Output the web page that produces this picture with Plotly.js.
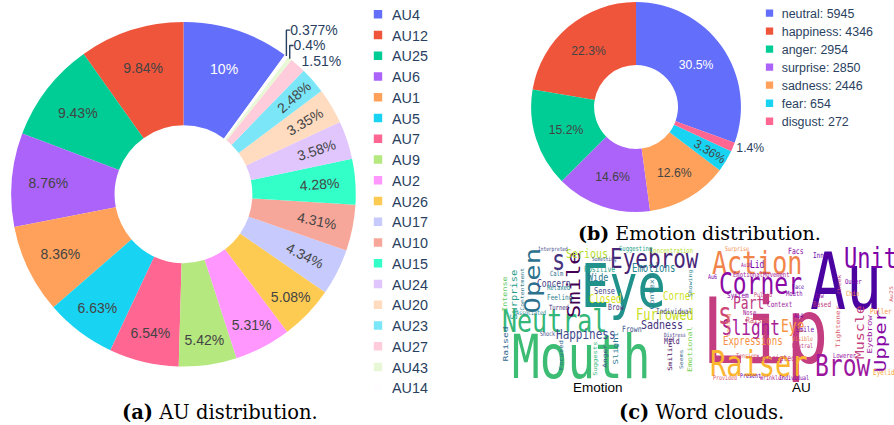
<!DOCTYPE html>
<html>
<head>
<meta charset="utf-8">
<script src="https://cdn.plot.ly/plotly-3.0.1.min.js"></script>
<style>
html,body{margin:0;padding:0;background:#fff;overflow:hidden;}
#wrap{position:relative;width:894px;height:425px;}
#base{position:absolute;left:0;top:0;width:894px;height:425px;}
#auPie{position:absolute;left:0;top:0;width:640px;height:600px;transform:scale(0.7);transform-origin:0 0;}
#emoPie{position:absolute;left:500px;top:0;width:646px;height:370px;transform:scale(0.61);transform-origin:0 0;}
#clouds{position:absolute;left:500px;top:219px;width:394px;height:144px;transform:scale(1,1.3);transform-origin:0 0;}
</style>
</head>
<body>
<div id="wrap">
  <div id="base"></div>
  <div id="clouds"></div>
  <div id="auPie"></div>
  <div id="emoPie"></div>
</div>
<script>
// ---------------- data ----------------
const auLabels = ['AU4','AU12','AU25','AU6','AU1','AU5','AU7','AU9','AU2','AU26','AU17','AU10','AU15','AU24','AU20','AU23','AU27','AU43','AU14'];
const auShares = [10.0,9.84,9.43,8.76,8.36,6.63,6.54,5.42,5.31,5.08,4.34,4.31,4.28,3.58,3.35,2.48,1.51,0.4,0.377];

const emotionNames = ['neutral','happiness','anger','surprise','sadness','fear','disgust'];
const emotionCounts = [5945,4346,2954,2850,2446,654,272];

const emotionCloudWords = ['Mouth','Eye','Neutral','Eyebrow','Open','s','Smile','Happiness','Furrowed','Sadness',
  'Serious','Emotions','Corner','Closed','Wide','Concern','Sense','Context','Slight','Smiling','Emotional','Surprise',
  'Intense','Contentment','Raised','Frown','Mild','Individual','Brow','Positive','Calm','Relaxed','Feeling','Turned',
  'Associated','Shock','Focused','Anger','Suggests','Seems','Showing','Concentration','Suggesting','Something','Interpreted','Distress'];
const auCloudWords = ['Lip','Au','Action','Unit','Corner','Raiser','Brow','Upper','Muscle','Eyebrow','Slight','Part','s','Eye',
  'Expressions','Associated','Lid','Facs','Surprise','Inner','Movement','Emotional','System','Pulled','Mouth','Face','Context',
  'Jaw','Based','Nose','Raised','Au4','Smile','Visible','Neutral','Tension','Lowerer','Present','Wrinkler','Individual',
  'Provided','Coding','Tightener','Puller','Chin','Outer','Cheek','Eyelid','Au25','Au6','Au10'];

// ---------------- word-cloud placement (x, y inside the cloud panel, font size, angle, colour) ----------------
const emotionCloudPlacement = [
 [80.5,112,46,0,'#3dbc74'],[123,40.5,47,0,'#21918c'],[54.7,76,25,0,'#35b779'],[154.7,13.7,21,0,'#482677'],
 [33,36,21,-90,'#2c728e'],[58,15,22,0,'#46337e'],[74,40.5,17,-90,'#440154'],[86,89,11,0,'#3e4a89'],
 [165,70.5,12,0,'#c8e020'],[162,80.5,10,0,'#46327e'],[87,8.5,10,0,'#b5de2b'],[153,23.3,9,0,'#26828e'],
 [179,50.5,9,0,'#d0e11c'],[105,55,9,0,'#dde318'],[98,32.5,8.5,0,'#2a788e'],[54,38,8,0,'#443983'],
 [104,47,7,0,'#414487'],[152.5,47,6.5,-90,'#2a788e'],[116,104,7,-90,'#2a788e'],[170,109,6,-90,'#440154'],
 [190,105,6.5,-90,'#7ad151'],[14,50,8,-90,'#1f9e89'],[5,50,6.5,-90,'#5ec962'],[22,45,5,-90,'#2a788e'],
 [5.5,99,7.5,-90,'#31688e'],[132,84,6.5,0,'#3b528b'],[172,96,6.5,0,'#482878'],[174,65,6,0,'#3e4989'],
 [116,63,6.5,0,'#472d7b'],[99.7,24.5,6.5,0,'#1f9e89'],[57,29,5.5,0,'#31688e'],[58,42.5,5.5,0,'#26828e'],
 [60,52,6,0,'#287d8e'],[59,62,5.5,0,'#46337e'],[31,68,5,0,'#26828e'],[47,89,5,0,'#3e4989'],
 [61,111,5.5,-90,'#31688e'],[105,111,6,-90,'#3b528b'],[96,114,5.5,-90,'#35b779'],[181,115,5,-90,'#31688e'],
 [190,39,5,-90,'#26828e'],[171,5.5,5.5,0,'#b5de2b'],[135,5,5.5,0,'#1f9e89'],[104,13.5,4.5,0,'#3b528b'],
 [53,4,4.5,0,'#3e4989'],[175,90,4.5,0,'#443983']
];
const auCloudPlacement = [
 [265,87,70,0,'#c33d80'],[346,37,60,0,'#4a02a0'],[257,17.8,25,0,'#f1844b'],[370,14,22,0,'#7e03a8'],
 [260.5,38.7,23,0,'#8b0aa5'],[259,118.8,27,0,'#fcb52e'],[343,120.5,23,0,'#9c179e'],[381,96,16,-90,'#8707a6'],
 [360,87,11.5,-90,'#c5407e'],[370,89,7,-90,'#9c179e'],[250.5,82,16,0,'#a62098'],[248,58,13,0,'#c03a83'],
 [224.5,69,23,0,'#cc4778'],[293,81,13,0,'#f89441'],[253,96.7,9,0,'#f68f44'],[275,113,6.5,0,'#c33d80'],
 [257,20.5,8,0,'#7e03a8'],[295.5,6.3,6.5,0,'#8a09a5'],[237,4.7,5,0,'#f48849'],[322,9.7,6,0,'#6a00a8'],
 [276,29.7,5.5,0,'#a72197'],[248,29.7,5.5,0,'#9c179e'],[237.5,50.3,6,0,'#8606a6'],[263,50,5,0,'#ca457a'],
 [294,48,5.5,0,'#7e03a8'],[298,41,5,0,'#5c01a6'],[280,59,6,0,'#9c179e'],[319,51,5.5,0,'#8b0aa5'],
 [322,59,6,0,'#c03a83'],[249,68,5.5,0,'#a62098'],[258,75,6.5,0,'#d5546e'],[298,70,5,0,'#7e03a8'],
 [304.5,84,6,0,'#7201a8'],[302,94,5,0,'#f07f4f'],[302,99.5,5,0,'#c33d80'],[246,110,5,0,'#d8576b'],
 [345,111,5.5,0,'#9511a1'],[250,130,5,0,'#6a00a8'],[272,132,5,0,'#b12a90'],[294,132,5,0,'#7e03a8'],
 [225,132,5,0,'#d8576b'],[229,80,5,-90,'#f48849'],[338,82,6,-90,'#d8576b'],[381,65,6,0,'#f89441'],
 [352,48,5.5,0,'#f89441'],[353,36,5.5,0,'#7e03a8'],[339,40,5,-90,'#c33d80'],[384,128,6,0,'#fca636'],
 [391,49,5,-90,'#d8576b'],[212,31,5,0,'#7e03a8'],[246,20,4.5,0,'#9c179e']
];

const plotlyColors = ['#636efa','#EF553B','#00cc96','#ab63fa','#FFA15A','#19d3f3','#FF6692','#B6E880','#FF97FF','#FECB52'];
const cfg = {staticPlot:true, displayModeBar:false};
const pieFont = {family:'Arial, "Liberation Sans", sans-serif', size:20, color:'#2a3f5f'};
const serif = '"DejaVu Serif", serif';

// ---------------- (a) AU pie ----------------
Plotly.newPlot('auPie', [{
  type:'pie', labels:auLabels, values:auShares, hole:0.4, textinfo:'percent', sort:true,
  domain:{x:[0.0211,0.798], y:[0.1285,0.9572]}
}], {
  width:640, height:600, margin:{l:0,r:0,t:0,b:0},
  colorway:plotlyColors, piecolorway:plotlyColors, extendpiecolors:true,
  paper_bgcolor:'rgba(0,0,0,0)', plot_bgcolor:'rgba(0,0,0,0)', font:pieFont,
  showlegend:true,
  legend:{x:0.8125, y:1.0093, xanchor:'left', yanchor:'top', bgcolor:'rgba(0,0,0,0)', font:{size:20.5}, maxheight:1000}
}, cfg);

// ---------------- (b) emotion pie ----------------
Plotly.newPlot('emoPie', [{
  type:'pie', labels:emotionNames.map((n,i)=>n+': '+emotionCounts[i]), values:emotionCounts,
  hole:0.4, textinfo:'percent', sort:true,
  domain:{x:[0.0789,0.6115], y:[0.0611,0.9908]}
}], {
  width:646, height:370, margin:{l:0,r:0,t:0,b:0},
  colorway:plotlyColors, piecolorway:plotlyColors, extendpiecolors:true,
  paper_bgcolor:'rgba(0,0,0,0)', plot_bgcolor:'rgba(0,0,0,0)', font:pieFont,
  showlegend:true,
  legend:{x:0.653, y:0.995, xanchor:'left', yanchor:'top', bgcolor:'rgba(0,0,0,0)', font:{size:20.4}, maxheight:1000}
}, cfg);

// ---------------- (c) word clouds ----------------
function cloudAnnotations(words, place){
  return words.map((w,i)=>{
    const p = place[i];
    return {text:w, x:p[0], y:p[1], xref:'x', yref:'y', showarrow:false, textangle:p[3],
            font:{family:'"DejaVu Sans Mono", monospace', size:p[2], color:p[4]}};
  });
}
Plotly.newPlot('clouds', [], {
  width:394, height:144, margin:{l:0,r:0,t:0,b:0},
  paper_bgcolor:'rgba(0,0,0,0)', plot_bgcolor:'rgba(0,0,0,0)',
  xaxis:{range:[0,394], visible:false, fixedrange:true},
  yaxis:{range:[161.2,-26], visible:false, fixedrange:true},
  annotations: cloudAnnotations(emotionCloudWords, emotionCloudPlacement)
               .concat(cloudAnnotations(auCloudWords, auCloudPlacement)),
  showlegend:false
}, cfg);

// ---------------- captions ----------------
function cap(text, px, py, size, family){
  return {text:text, x:px/894, y:1-py/425, xref:'paper', yref:'paper', showarrow:false,
          xanchor:'center', yanchor:'middle', font:{family:family, size:size, color:'#000'}};
}
Plotly.newPlot('base', [], {
  width:894, height:425, margin:{l:0,r:0,t:0,b:0},
  paper_bgcolor:'#fff', plot_bgcolor:'#fff',
  xaxis:{visible:false}, yaxis:{visible:false}, showlegend:false,
  annotations:[
    cap('<b>(a)</b> AU distribution.', 219.5, 412, 19.5, serif),
    cap('<b>(b)</b> Emotion distribution.', 699, 233, 19, serif),
    cap('<b>(c)</b> Word clouds.', 701, 412, 19.5, serif),
    cap('Emotion', 598, 387, 13.5, 'Arial, "Liberation Sans", sans-serif'),
    cap('AU', 801, 387, 13.5, 'Arial, "Liberation Sans", sans-serif')
  ]
}, cfg);
</script>
</body>
</html>
